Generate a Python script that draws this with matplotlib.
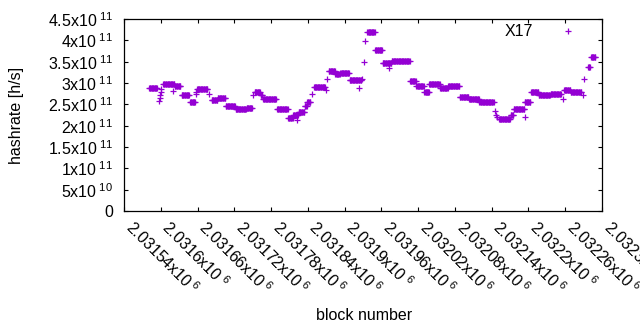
import numpy as np
import matplotlib
matplotlib.use('Agg')
import matplotlib.pyplot as plt

plt.rcParams['font.family'] = ['Liberation Sans', 'DejaVu Sans']
plt.rcParams['mathtext.fontset'] = 'custom'
plt.rcParams['mathtext.rm'] = 'Liberation Sans'
plt.rcParams['mathtext.it'] = 'Liberation Sans:italic'
plt.rcParams['font.size'] = 11.5

# hashrate estimate per block, constant over runs of blocks
# (first block, last block, value in 1e9 h/s)
run_first = [2031581, 2031597, 2031598, 2031599, 2031600, 2031601, 2031603,
             2031605, 2031620, 2031623, 2031634, 2031648, 2031657, 2031658,
             2031659, 2031679, 2031683, 2031693, 2031706, 2031722, 2031740,
             2031751, 2031753, 2031763, 2031767, 2031790, 2031808, 2031822,
             2031816, 2031825, 2031835, 2031839, 2031847, 2031850, 2031870,
             2031872, 2031874, 2031885, 2031893, 2031908, 2031923, 2031929,
             2031931, 2031934, 2031937, 2031950, 2031962, 2031973, 2031977,
             2032007, 2032017, 2032030, 2032036, 2032038, 2032056, 2032069,
             2032088, 2032103, 2032120, 2032146, 2032147, 2032149, 2032152,
             2032171, 2032176, 2032177, 2032195, 2032194, 2032204, 2032217,
             2032236, 2032256, 2032258, 2032269, 2032289, 2032291, 2032297,
             2032302]
run_last = [2031594, 2031597, 2031598, 2031599, 2031600, 2031601, 2031603,
            2031622, 2031620, 2031632, 2031646, 2031656, 2031657, 2031658,
            2031676, 2031679, 2031692, 2031705, 2031721, 2031739, 2031749,
            2031751, 2031762, 2031766, 2031788, 2031807, 2031815, 2031822,
            2031824, 2031834, 2031838, 2031844, 2031847, 2031868, 2031870,
            2031872, 2031884, 2031892, 2031907, 2031927, 2031923, 2031929,
            2031931, 2031934, 2031949, 2031961, 2031976, 2031973, 2032006,
            2032016, 2032029, 2032037, 2032036, 2032055, 2032068, 2032087,
            2032102, 2032119, 2032143, 2032146, 2032147, 2032149, 2032170,
            2032175, 2032176, 2032193, 2032195, 2032203, 2032216, 2032235,
            2032253, 2032256, 2032268, 2032286, 2032289, 2032291, 2032300,
            2032309]
run_value = [288, 258, 264, 272, 278, 285, 297,
             298, 282, 292, 271, 256, 275, 280,
             287, 274, 259, 266, 247, 240, 242,
             272, 280, 273, 262, 238, 219, 213,
             225, 231, 245, 255, 274, 290, 284,
             309, 327, 321, 323, 306, 289, 309,
             350, 398, 420, 377, 346, 334, 352,
             305, 292, 280, 280, 297, 288, 293,
             267, 262, 256, 235, 225, 220, 215,
             225, 240, 238, 221, 255, 278, 271,
             274, 262, 283, 279, 272, 309, 337,
             360]

xticks = [2031540, 2031600, 2031660, 2031720, 2031780, 2031840, 2031900,
          2031960, 2032020, 2032080, 2032140, 2032200, 2032260, 2032320]
xtick_labels = ['2.03154x10$^{\\ 6}$', '2.0316x10$^{\\ 6}$', '2.03166x10$^{\\ 6}$',
                '2.03172x10$^{\\ 6}$', '2.03178x10$^{\\ 6}$', '2.03184x10$^{\\ 6}$',
                '2.0319x10$^{\\ 6}$', '2.03196x10$^{\\ 6}$', '2.03202x10$^{\\ 6}$',
                '2.03208x10$^{\\ 6}$', '2.03214x10$^{\\ 6}$', '2.0322x10$^{\\ 6}$',
                '2.03226x10$^{\\ 6}$', '2.03232x10$^{\\ 6}$']
yticks = [0, 0.5e11, 1e11, 1.5e11, 2e11, 2.5e11, 3e11, 3.5e11, 4e11, 4.5e11]
ytick_labels = ['0', '5x10$^{\\ 10}$', '1x10$^{\\ 11}$', '1.5x10$^{\\ 11}$',
                '2x10$^{\\ 11}$', '2.5x10$^{\\ 11}$', '3x10$^{\\ 11}$',
                '3.5x10$^{\\ 11}$', '4x10$^{\\ 11}$', '4.5x10$^{\\ 11}$']

blocks = np.concatenate([np.arange(a, b + 1) for a, b in zip(run_first, run_last)])
rates = np.concatenate([np.full(b - a + 1, v * 1e9)
                        for a, b, v in zip(run_first, run_last, run_value)])

fig = plt.figure(figsize=(6.4, 3.3), dpi=100)
ax = fig.add_axes([124 / 640, 1 - 211 / 330, 478 / 640, 192 / 330])

ax.plot(blocks, rates, linestyle='none', marker='+', markersize=5,
        markeredgewidth=0.9, color='#9400d3', label='X17')

ax.set_xlim(2031540, 2032320)
ax.set_ylim(0, 4.5e11)
ax.set_xticks(xticks)
ax.set_xticklabels(xtick_labels, rotation=-45, ha='left', va='baseline',
                   rotation_mode='anchor')
ax.set_yticks(yticks)
ax.set_yticklabels(ytick_labels)
ax.tick_params(direction='in', length=3, width=0.8, top=True, right=True)
ax.tick_params(axis='y', pad=8)
ax.tick_params(axis='x', pad=13)
for s in ax.spines.values():
    s.set_linewidth(0.9)

fig.text(17 / 640, 1 - 115 / 330, 'hashrate [h/s]', rotation=90,
         ha='center', va='center')
fig.text(364 / 640, 1 - 315 / 330, 'block number', ha='center', va='center')

ax.legend(loc='center right', bbox_to_anchor=(584 / 640, 1 - 32 / 330),
          bbox_transform=fig.transFigure, frameon=False, markerfirst=False,
          borderpad=0, borderaxespad=0, handletextpad=1.2, handlelength=2.0)

fig.savefig('out.png', dpi=100)
